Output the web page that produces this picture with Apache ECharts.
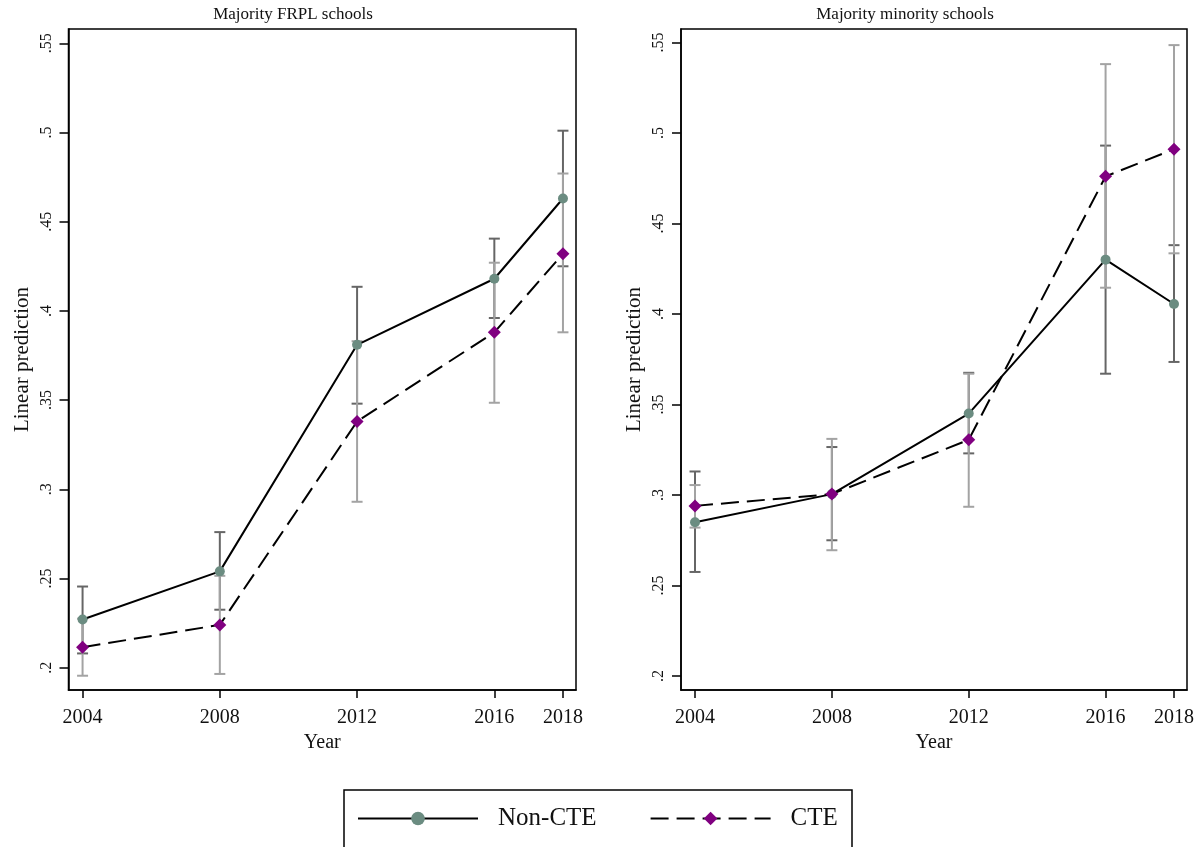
<!DOCTYPE html>
<html><head><meta charset="utf-8">
<script src="https://cdn.jsdelivr.net/npm/echarts@6/dist/echarts.min.js"></script>
<style>html,body{margin:0;padding:0;background:#fff}#c{width:1197px;height:847px}</style>
</head><body><div id="c"></div>
<script>
const years = [2004, 2008, 2012, 2016, 2018];
const yTicks = [0.2, 0.25, 0.3, 0.35, 0.4, 0.45, 0.5, 0.55];
const yTickLabels = ['.2', '.25', '.3', '.35', '.4', '.45', '.5', '.55'];

// Majority FRPL schools
const frplNon   = [0.227, 0.254, 0.381, 0.418, 0.463];
const frplNonLo = [0.208, 0.2325, 0.348, 0.396, 0.425];
const frplNonHi = [0.2455, 0.276, 0.4135, 0.4405, 0.501];
const frplCte   = [0.2115, 0.224, 0.338, 0.388, 0.432];
const frplCteLo = [0.1955, 0.1965, 0.293, 0.3485, 0.388];
const frplCteHi = [0.2275, 0.2515, 0.383, 0.427, 0.477];

// Majority minority schools
const minNon   = [0.285, 0.3005, 0.345, 0.430, 0.4055];
const minNonLo = [0.2575, 0.275, 0.323, 0.367, 0.3735];
const minNonHi = [0.313, 0.3265, 0.3675, 0.493, 0.438];
const minCte   = [0.294, 0.3005, 0.3305, 0.476, 0.491];
const minCteLo = [0.282, 0.2695, 0.2935, 0.4145, 0.4335];
const minCteHi = [0.3055, 0.331, 0.367, 0.538, 0.5485];

const FONT = 'Liberation Serif';
const TXT = '#111';
const GREEN = '#6b8c81';
const PURPLE = '#800080';
const DARK = '#666666';
const LIGHT = '#a3a3a3';

const pairs = (xs, ys) => xs.map((x, i) => [x, ys[i]]);
const triples = (xs, lo, hi) => xs.map((x, i) => [x, lo[i], hi[i]]);

function errRender(params, api) {
  const x = api.value(0), lo = api.value(1), hi = api.value(2);
  const a = api.coord([x, lo]), b = api.coord([x, hi]);
  const w = 5.5;
  const style = { stroke: api.visual('color'), lineWidth: 2 };
  return { type: 'group', children: [
    { type: 'line', shape: { x1: a[0], y1: a[1], x2: b[0], y2: b[1] }, style },
    { type: 'line', shape: { x1: a[0] - w, y1: a[1], x2: a[0] + w, y2: a[1] }, style },
    { type: 'line', shape: { x1: b[0] - w, y1: b[1], x2: b[0] + w, y2: b[1] }, style }
  ]};
}

function xAxisCfg(idx) {
  return {
    type: 'value', gridIndex: idx, min: 2003.59, max: 2018.38,
    name: 'Year', nameLocation: 'middle', nameGap: 38,
    nameTextStyle: { fontFamily: FONT, fontSize: 20, color: TXT },
    axisLine: { show: true, lineStyle: { color: '#000', width: 1.5 } },
    axisTick: { show: true, length: 8, lineStyle: { color: '#000', width: 1.5 }, customValues: years },
    axisLabel: { fontFamily: FONT, fontSize: 20, color: TXT, margin: 18, customValues: years, formatter: v => String(v) },
    splitLine: { show: false }
  };
}
function yAxisCfg(idx, min, max) {
  return {
    type: 'value', gridIndex: idx, min, max,
    name: 'Linear prediction', nameLocation: 'middle', nameGap: 36, nameRotate: 90,
    nameTextStyle: { fontFamily: FONT, fontSize: 21, color: TXT },
    axisLine: { show: true, lineStyle: { color: '#000', width: 1.5 } },
    axisTick: { show: true, length: 9, lineStyle: { color: '#000', width: 1.5 }, customValues: yTicks },
    axisLabel: { fontFamily: FONT, fontSize: 16, color: TXT, rotate: 90, margin: 14, customValues: yTicks,
      formatter: v => { const i = yTicks.findIndex(t => Math.abs(t - v) < 1e-9); return i >= 0 ? yTickLabels[i] : ''; } },
    splitLine: { show: false }
  };
}

function panelSeries(idx, non, nonLo, nonHi, cte, cteLo, cteHi) {
  return [
    { type: 'custom', name: 'errNon' + idx, xAxisIndex: idx, yAxisIndex: idx, renderItem: errRender,
      itemStyle: { color: DARK }, encode: { x: 0, y: [1, 2] }, data: triples(years, nonLo, nonHi), z: 2, silent: true },
    { type: 'custom', name: 'errCte' + idx, xAxisIndex: idx, yAxisIndex: idx, renderItem: errRender,
      itemStyle: { color: LIGHT }, encode: { x: 0, y: [1, 2] }, data: triples(years, cteLo, cteHi), z: 3, silent: true },
    { type: 'line', name: 'Non-CTE', xAxisIndex: idx, yAxisIndex: idx, data: pairs(years, non),
      symbol: 'circle', symbolSize: 10, showAllSymbol: true,
      lineStyle: { color: '#000', width: 2 }, itemStyle: { color: GREEN, borderWidth: 0 }, z: 4, animation: false },
    { type: 'line', name: 'CTE', xAxisIndex: idx, yAxisIndex: idx, data: pairs(years, cte),
      symbol: 'diamond', symbolSize: 13, showAllSymbol: true,
      lineStyle: { color: '#000', width: 2, type: [18, 8] }, itemStyle: { color: PURPLE, borderWidth: 0 }, z: 5, animation: false }
  ];
}

const chart = echarts.init(document.getElementById('c'), null, { renderer: 'canvas' });
chart.setOption({
  animation: false,
  backgroundColor: '#fff',
  grid: [
    { left: 68.5, top: 29, width: 507.5, height: 661, show: true, borderColor: '#000', borderWidth: 1.5, containLabel: false },
    { left: 681, top: 29, width: 509, height: 661, show: true, borderColor: '#000', borderWidth: 1.5, containLabel: false }
  ],
  xAxis: [xAxisCfg(0), xAxisCfg(1)],
  yAxis: [yAxisCfg(0, 0.1875, 0.558), yAxisCfg(1, 0.1923, 0.5574)],
  legend: {
    data: ['Non-CTE', 'CTE'], left: 357, top: 806, padding: 0,
    itemWidth: 120, itemHeight: 17, itemGap: 53,
    textStyle: { fontFamily: FONT, fontSize: 25, color: TXT, padding: [0, 0, 0, 15] },
    selectedMode: false
  },
  graphic: [
    { type: 'text', x: 293, y: 15, style: { text: 'Majority FRPL schools', font: '17px "Liberation Serif"', fill: TXT, textAlign: 'center', textVerticalAlign: 'middle' } },
    { type: 'text', x: 905, y: 15, style: { text: 'Majority minority schools', font: '17px "Liberation Serif"', fill: TXT, textAlign: 'center', textVerticalAlign: 'middle' } },
    { type: 'rect', shape: { x: 344, y: 790, width: 508, height: 80 }, style: { fill: 'none', stroke: '#000', lineWidth: 1.5 }, z: -1 }
  ],
  series: [
    ...panelSeries(0, frplNon, frplNonLo, frplNonHi, frplCte, frplCteLo, frplCteHi),
    ...panelSeries(1, minNon, minNonLo, minNonHi, minCte, minCteLo, minCteHi)
  ]
});
</script></body></html>
